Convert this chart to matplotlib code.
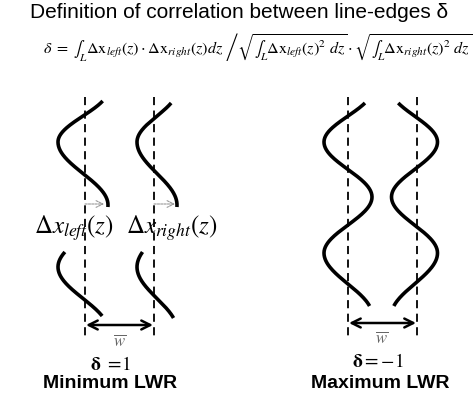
import numpy as np
import matplotlib
matplotlib.use("Agg")
import matplotlib.pyplot as plt

plt.rcParams['mathtext.fontset'] = 'stix'
plt.rcParams['font.family'] = ['Liberation Sans', 'DejaVu Sans']

# ---- text content ----
title = "Definition of correlation between line-edges δ"
formula = (r'$\delta\ =\ \int_L \mathrm{\Delta x}_{left}\left(z\right)\cdot'
           r'\mathrm{\Delta x}_{right}\left(z\right)dz\ '
           r'\left/\sqrt{\int_L \mathrm{\Delta x}_{left}\left(z\right)^2\ dz}\cdot'
           r'\sqrt{\int_L \mathrm{\Delta x}_{right}\left(z\right)^2\ dz}\right.$')
edge_labels = [r'$\Delta x_{left}\left(z\right)$', r'$\Delta x_{right}\left(z\right)$']
delta_labels = [r'$\mathbf{\delta}\ =\!1$', r'$\mathbf{\delta} = -1$']
case_labels = ["Minimum LWR", "Maximum LWR"]
width_label = r'$\overline{w}$'

# ---- diagram geometry (pixel units) ----
dash_x = [[85, 154], [348, 417]]
dash_y = [97, 338]
# edge curves: centre, amplitude, sign, extrema positions, visible segments
curve_centre = [83, 157, 348, 414.5]
curve_amp = [25, 20, 24, 23]
curve_sign = [1, 1, 1, -1]
curve_ext = [[90, 142, 205, 267, 330], [90, 142, 205, 267, 330],
             [90, 142, 197, 253, 315], [90, 142, 197, 253, 315]]
curve_segs = [[(101, 207), (252, 316)], [(103, 207), (252, 318)],
              [(103, 306)], [(103, 306)]]
small_arrow_y = 204
small_arrow_x = [(85, 104), (154, 175)]
width_arrow_y = [325, 323]
width_arrow_x = [(86, 153), (349, 416)]

fig = plt.figure(figsize=(4.76, 4.00), dpi=100)
ax = fig.add_axes([0, 0, 1, 1])
ax.set_xlim(0, 476)
ax.set_ylim(400, 0)
ax.axis('off')

ax.text(239, 12, title, ha='center', va='center', fontsize=15)
ax.text(43, 53, formula, ha='left', va='baseline', fontsize=11.6)

for xs in dash_x:
    for x in xs:
        ax.plot([x, x], dash_y, color='black', lw=1.3, ls=(0, (4.5, 3)))

for c, a, s, ext, segs in zip(curve_centre, curve_amp, curve_sign, curve_ext, curve_segs):
    for y0, y1 in segs:
        y = np.linspace(y0, y1, 200)
        ph = np.interp(y, ext, np.arange(len(ext)) * np.pi)
        ax.plot(c + s * a * np.cos(ph), y, color='black', lw=2.6, solid_capstyle='butt')

for x0, x1 in small_arrow_x:
    ax.annotate('', xy=(x1, small_arrow_y), xytext=(x0, small_arrow_y),
                arrowprops=dict(arrowstyle='->', color='#999999', lw=0.8,
                                ls=(0, (2, 1)), shrinkA=0, shrinkB=0,
                                mutation_scale=12))

for (x0, x1), yy in zip(width_arrow_x, width_arrow_y):
    ax.annotate('', xy=(x1, yy), xytext=(x0, yy),
                arrowprops=dict(arrowstyle='<->', color='black', lw=1.8,
                                shrinkA=0, shrinkB=0, mutation_scale=16))

ax.text(74, 228, edge_labels[0], ha='center', va='center', fontsize=18)
ax.text(172, 228, edge_labels[1], ha='center', va='center', fontsize=18)

ax.text(120, 341, width_label, ha='center', va='center', fontsize=12, color='#666666')
ax.text(382, 338, width_label, ha='center', va='center', fontsize=12, color='#666666')

ax.text(110, 365, delta_labels[0], ha='center', va='center', fontsize=14)
ax.text(378, 362, delta_labels[1], ha='center', va='center', fontsize=14)
ax.text(110, 384, case_labels[0], ha='center', va='center', fontsize=14, fontweight='bold')
ax.text(380, 384, case_labels[1], ha='center', va='center', fontsize=14, fontweight='bold')

fig.savefig('out.png', dpi=100)
